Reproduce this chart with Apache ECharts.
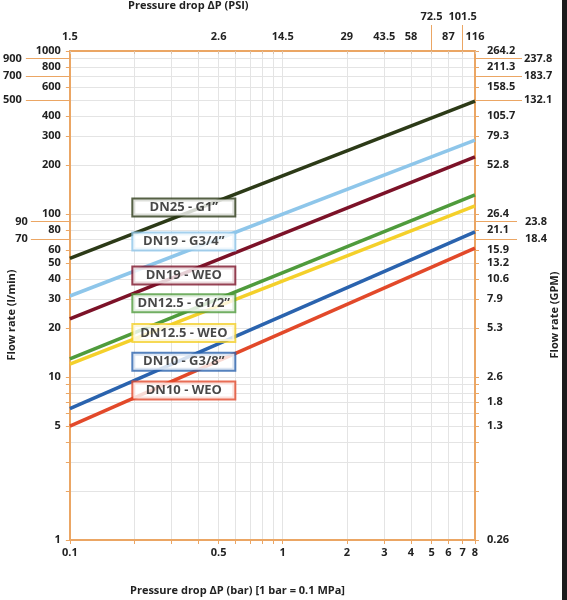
<!DOCTYPE html>
<html><head><meta charset="utf-8">
<script src="https://cdn.jsdelivr.net/npm/echarts@6/dist/echarts.min.js"></script>
<style>html,body{margin:0;padding:0;background:#fff}#c{width:567px;height:600px}</style>
</head><body><div id="c"></div>
<script>
// ---- data ----
const pressureBar = [0.1, 8];
const seriesNames = ['DN25 - G1\u201D', 'DN19 - G3/4\u201D', 'DN19 - WEO', 'DN12.5 - G1/2\u201D', 'DN12.5 - WEO', 'DN10 - G3/8\u201D', 'DN10 - WEO'];
const flowDN25_G1 = [53.5, 493];
const flowDN19_G34 = [31.4, 284];
const flowDN19_WEO = [22.7, 224];
const flowDN125_G12 = [12.9, 131];
const flowDN125_WEO = [12.0, 112];
const flowDN10_G38 = [6.4, 77.6];
const flowDN10_WEO = [5.0, 61.8];
const seriesColors = ['#2c3a17', '#8ec6ea', '#7c1228', '#4f9b3c', '#f4d02a', '#2a63ae', '#e2492a'];
const labelBar = 0.343;
const labelFlow = [109.6, 67.8, 42.0, 28.3, 18.6, 12.4, 8.26];

const xTickBar = [0.1,0.2,0.3,0.4,0.5,0.6,0.7,0.8,0.9,1,2,3,4,5,6,7,8];
const xLabelBar = [0.1,0.5,1,2,3,4,5,6,7,8];
const psiPos = [0.1,0.5,1,2,3,4,6,8];
const psiLabels = ['1.5','2.6','14.5','29','43.5','58','87','116'];
const psiLongPos = [5,7];
const psiLongLabels = ['72.5','101.5'];

const yTickFlow = [1,2,3,4,5,6,7,8,9,10,20,30,40,50,60,70,80,90,100,200,300,400,500,600,700,800,900,1000];
const yLabelFlow = [1,5,10,20,30,40,50,60,80,100,200,300,400,600,800,1000];
const yLongFlowA = [500,700,900];
const yLongFlowB = [70,90];
const gpmPos = [1,5,7,10,20,30,40,50,60,80,100,200,300,400,600,800,1000];
const gpmLabels = ['0.26','1.3','1.8','2.6','5.3','7.9','10.6','13.2','15.9','21.1','26.4','52.8','79.3','105.7','158.5','211.3','264.2'];
const gpmLongAPos = [500,700,900];
const gpmLongALabels = ['132.1','183.7','237.8'];
const gpmLongBPos = [70,90];
const gpmLongBLabels = ['18.4','23.8'];

// ---- helpers ----
const lg = Math.log10;
const AX = '#eba664';
const TXT = '#222';
const GRID = '#e4e4e4';
const FONT = '"Open Sans", sans-serif';
function fmt(pos, labels) {
  return function (v) {
    for (let i = 0; i < pos.length; i++) if (Math.abs(lg(pos[i]) - v) < 1e-6) return labels[i];
    return '';
  };
}
const labStyle = {color: TXT, fontSize: 11, fontWeight: 'bold', fontFamily: FONT};
const xMin = lg(0.1), xMax = lg(8), yMin = 0, yMax = 3;
const hiddenLine = {show: false, onZero: false};
const shownLine = {show: true, onZero: false, lineStyle: {color: AX, width: 2}};

function xAx(extra) {
  return Object.assign({type: 'value', min: xMin, max: xMax, gridIndex: 0, splitLine: {show: false},
    axisLine: hiddenLine}, extra);
}
function yAx(extra) {
  return Object.assign({type: 'value', min: yMin, max: yMax, gridIndex: 0, splitLine: {show: false},
    axisLine: hiddenLine}, extra);
}

const series = [];
// grid lines: horizontal ones through a markLine series, vertical ones through another
series.push({
  type: 'line', xAxisIndex: 0, yAxisIndex: 0, data: [], silent: true, z: 0,
  markLine: {silent: true, symbol: 'none', animation: false, z: 0, label: {show: false},
    lineStyle: {color: GRID, width: 1, type: 'solid'},
    emphasis: {disabled: true},
    data: yTickFlow.slice(1, -1).map(v => [{coord: [xMin, lg(v)]}, {coord: [xMax, lg(v)]}])}
});
series.push({
  type: 'line', xAxisIndex: 0, yAxisIndex: 0, data: [], silent: true, z: 0,
  markLine: {silent: true, symbol: 'none', animation: false, z: 0, label: {show: false},
    lineStyle: {color: GRID, width: 1, type: 'solid'},
    emphasis: {disabled: true},
    data: xTickBar.slice(1, -1).map(v => [{coord: [lg(v), yMin]}, {coord: [lg(v), yMax]}])}
});
const flows = [flowDN25_G1, flowDN19_G34, flowDN19_WEO, flowDN125_G12, flowDN125_WEO, flowDN10_G38, flowDN10_WEO];
flows.forEach((f, i) => series.push({
  type: 'line', name: seriesNames[i], xAxisIndex: 0, yAxisIndex: 0,
  data: pressureBar.map((p, j) => [lg(p), lg(f[j])]),
  symbol: 'none', lineStyle: {color: seriesColors[i], width: 3.5}, z: 6, silent: true
}));
series.push({
  type: 'scatter', xAxisIndex: 0, yAxisIndex: 0, symbolSize: 0, z: 10, silent: true,
  data: labelFlow.map((f, i) => ({value: [lg(labelBar), lg(f)], name: seriesNames[i],
    label: {borderColor: seriesColors[i]}})),
  label: {show: true, position: 'inside', formatter: '{b}', width: 101, align: 'center',
    backgroundColor: '#fff', borderWidth: 2, padding: [1, 0, 1, 0], lineHeight: 14,
    color: '#1a1a1a', fontSize: 13, fontWeight: 'bold', fontFamily: FONT}
});

const option = {
  animation: false,
  backgroundColor: '#fff',
  grid: {left: 65, right: 92, top: 51, bottom: 60, containLabel: false},
  xAxis: [
    xAx({position: 'bottom', axisLine: shownLine,
      axisTick: {show: true, length: 4, lineStyle: {color: AX}, customValues: xTickBar.map(lg)},
      axisLabel: Object.assign({customValues: xLabelBar.map(lg), margin: 7,
        formatter: fmt(xLabelBar, xLabelBar.map(String))}, labStyle)}),
    xAx({position: 'top', axisLine: shownLine,
      axisTick: {show: true, inside: true, length: 3, lineStyle: {color: '#d9c3ad'}, customValues: xTickBar.map(lg)},
      axisLabel: Object.assign({customValues: psiPos.map(lg), margin: 9, formatter: fmt(psiPos, psiLabels)}, labStyle)}),
    xAx({position: 'top', axisTick: {show: true, length: 26, lineStyle: {color: AX}, customValues: psiLongPos.map(lg)},
      axisLabel: Object.assign({customValues: psiLongPos.map(lg), margin: 29, formatter: fmt(psiLongPos, psiLongLabels)}, labStyle)})
  ],
  yAxis: [
    yAx({position: 'left', axisLine: shownLine,
      axisTick: {show: true, length: 4, lineStyle: {color: AX}, customValues: yTickFlow.map(lg)},
      axisLabel: Object.assign({customValues: yLabelFlow.map(lg), margin: 9, formatter: fmt(yLabelFlow, yLabelFlow.map(String))}, labStyle)}),
    yAx({position: 'left', axisTick: {show: true, length: 44, lineStyle: {color: AX}, customValues: yLongFlowA.map(lg)},
      axisLabel: Object.assign({customValues: yLongFlowA.map(lg), margin: 48, formatter: fmt(yLongFlowA, yLongFlowA.map(String))}, labStyle)}),
    yAx({position: 'left', axisTick: {show: true, length: 39, lineStyle: {color: AX}, customValues: yLongFlowB.map(lg)},
      axisLabel: Object.assign({customValues: yLongFlowB.map(lg), margin: 42, formatter: fmt(yLongFlowB, yLongFlowB.map(String))}, labStyle)}),
    yAx({position: 'right', axisLine: shownLine,
      axisTick: {show: true, length: 4, lineStyle: {color: AX}, customValues: yTickFlow.map(lg)},
      axisLabel: Object.assign({customValues: gpmPos.map(lg), margin: 12, formatter: fmt(gpmPos, gpmLabels)}, labStyle)}),
    yAx({position: 'right', axisTick: {show: true, length: 47, lineStyle: {color: AX}, customValues: gpmLongAPos.map(lg)},
      axisLabel: Object.assign({customValues: gpmLongAPos.map(lg), margin: 49, formatter: fmt(gpmLongAPos, gpmLongALabels)}, labStyle)}),
    yAx({position: 'right', axisTick: {show: true, length: 42, lineStyle: {color: AX}, customValues: gpmLongBPos.map(lg)},
      axisLabel: Object.assign({customValues: gpmLongBPos.map(lg), margin: 50, formatter: fmt(gpmLongBPos, gpmLongBLabels)}, labStyle)})
  ],
  graphic: [
    {type: 'text', left: 128, top: 0, style: {text: 'Pressure drop \u0394P (PSI)', fill: TXT, font: 'bold 11px "Open Sans", sans-serif'}},
    {type: 'text', left: 130, top: 585, style: {text: 'Pressure drop \u0394P (bar) [1 bar = 0.1 MPa]', fill: TXT, font: 'bold 11px "Open Sans", sans-serif'}},
    {type: 'text', x: 12, y: 315, rotation: Math.PI / 2,
      style: {text: 'Flow rate (l/min)', fill: TXT, font: 'bold 11px "Open Sans", sans-serif', align: 'center', verticalAlign: 'middle'}},
    {type: 'text', x: 555, y: 315, rotation: Math.PI / 2,
      style: {text: 'Flow rate (GPM)', fill: TXT, font: 'bold 11px "Open Sans", sans-serif', align: 'center', verticalAlign: 'middle'}},
    {type: 'rect', shape: {x: 562, y: 0, width: 5, height: 600}, style: {fill: '#1c1c1c'}}
  ],
  series: series
};
const chart = echarts.init(document.getElementById('c'), null, {renderer: 'canvas'});
chart.setOption(option);
</script>
</body></html>
